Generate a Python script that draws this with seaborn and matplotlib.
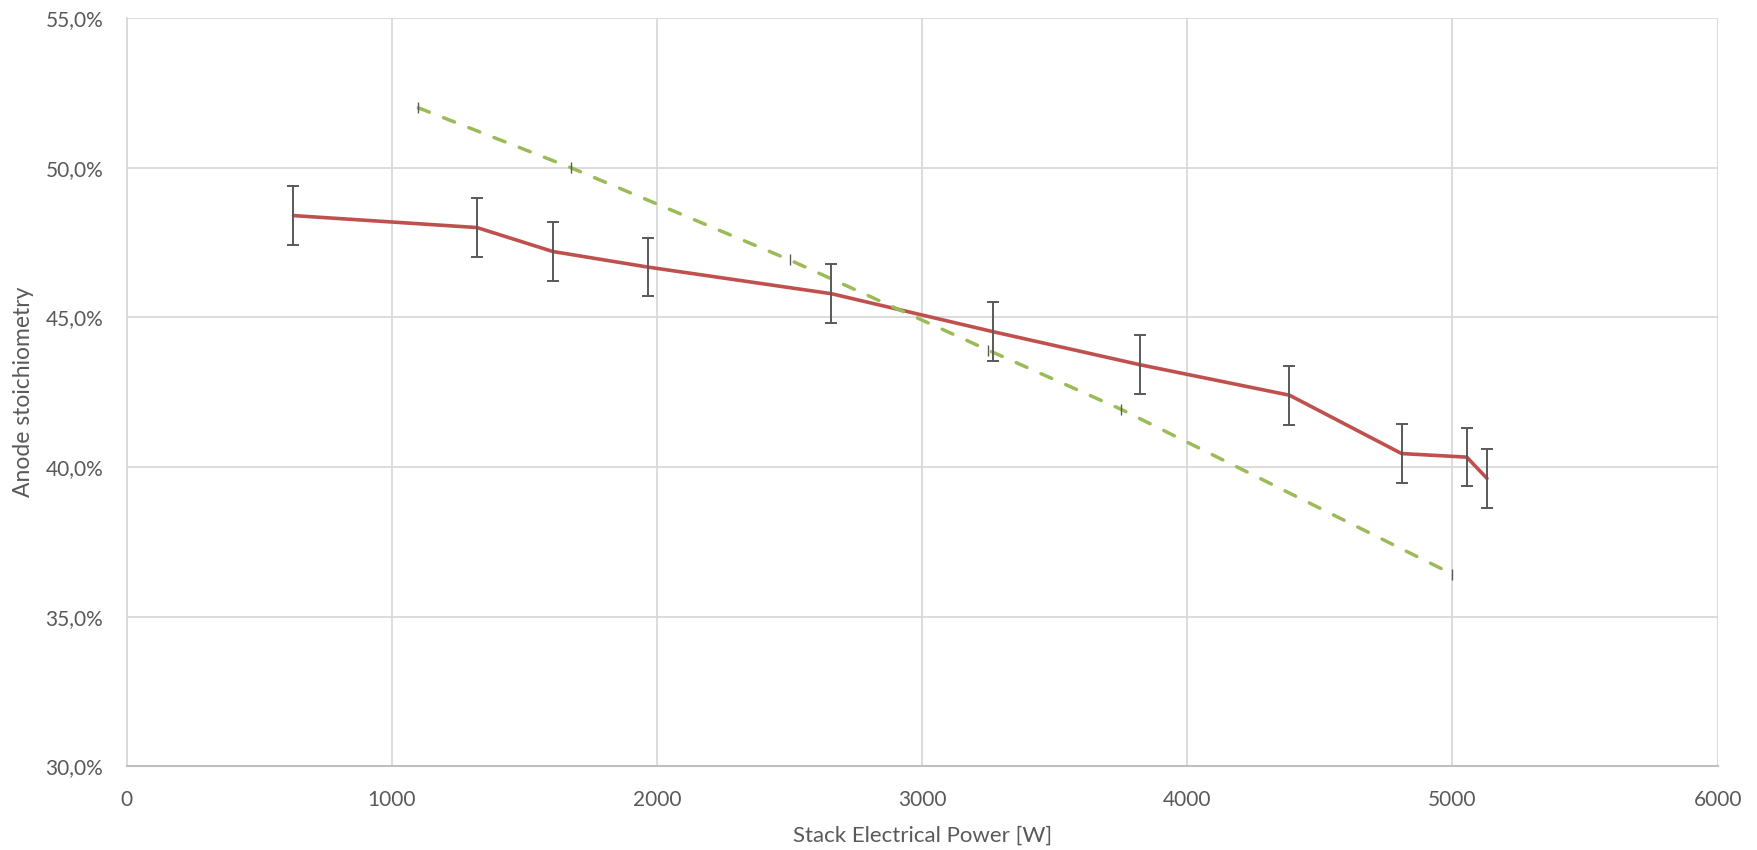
import matplotlib
matplotlib.use("Agg")
import matplotlib.pyplot as plt
import matplotlib.ticker as mticker
import seaborn as sns

# measured series (stack power in W, anode stoichiometry in %)
power = [629, 1321, 1607, 1965, 2658, 3268, 3820, 4385, 4808, 5054, 5130]
stoich = [48.4, 48.0, 47.2, 46.68, 45.79, 44.52, 43.42, 42.4, 40.45, 40.33, 39.62]
stoich_err = [0.98] * len(power)

# dashed reference curve
ref_power = [1100, 1675, 2500, 3250, 3750, 5000]
ref_stoich = [52.0, 50.0, 46.92, 43.9, 41.93, 36.42]
ref_err = [0.18] * len(ref_power)

x_ticks = [0, 1000, 2000, 3000, 4000, 5000, 6000]
y_ticks = [30, 35, 40, 45, 50, 55]

sns.set_theme(style="whitegrid")
plt.rcParams['font.family'] = ['Lato', 'DejaVu Sans']
text_col = '#595959'

fig = plt.figure(figsize=(17.57, 8.5), dpi=100)
ax = fig.add_axes([0.0721, 0.0984, 0.9055, 0.8804])

sns.lineplot(x=power, y=stoich, ax=ax, color='#C0504D', linewidth=2.6,
             sort=False, zorder=3)
ax.errorbar(power, stoich, yerr=stoich_err, fmt='none', ecolor=text_col,
            elinewidth=1.4, capsize=4.2, capthick=1.4, zorder=4)

sns.lineplot(x=ref_power, y=ref_stoich, ax=ax, color='#9BBB59', linewidth=2.5,
             sort=False, zorder=3, dashes=False)
ref_line = ax.lines[-1]
ref_line.set_dashes([3.4, 4.4])
ref_line.set_dash_capstyle('round')
ax.errorbar(ref_power, ref_stoich, yerr=ref_err, fmt='none', ecolor=text_col,
            elinewidth=1.0, capsize=0, zorder=4)

ax.set_xlim(0, 6000)
ax.set_ylim(30, 55)
ax.set_xticks(x_ticks)
ax.set_yticks(y_ticks)
ax.yaxis.set_major_formatter(mticker.FuncFormatter(
    lambda v, p: f"{v:.1f}%".replace('.', ',')))

ax.grid(True, color='#D9D9D9', linewidth=1.3)
ax.set_axisbelow(True)
for s in ['top', 'right']:
    ax.spines[s].set_visible(False)
ax.spines['left'].set_color('#D9D9D9')
ax.spines['left'].set_linewidth(1.3)
ax.spines['bottom'].set_color('#BFBFBF')
ax.spines['bottom'].set_linewidth(1.5)

ax.tick_params(axis='both', length=0, labelsize=15, colors=text_col)
ax.tick_params(axis='y', pad=17)
ax.tick_params(axis='x', pad=17)

ax.set_xlabel('Stack Electrical Power [W]', fontsize=16, color=text_col, labelpad=11)
ax.set_ylabel('Anode stoichiometry', fontsize=16.5, color=text_col, labelpad=8)

fig.savefig('out.png', dpi=100)
